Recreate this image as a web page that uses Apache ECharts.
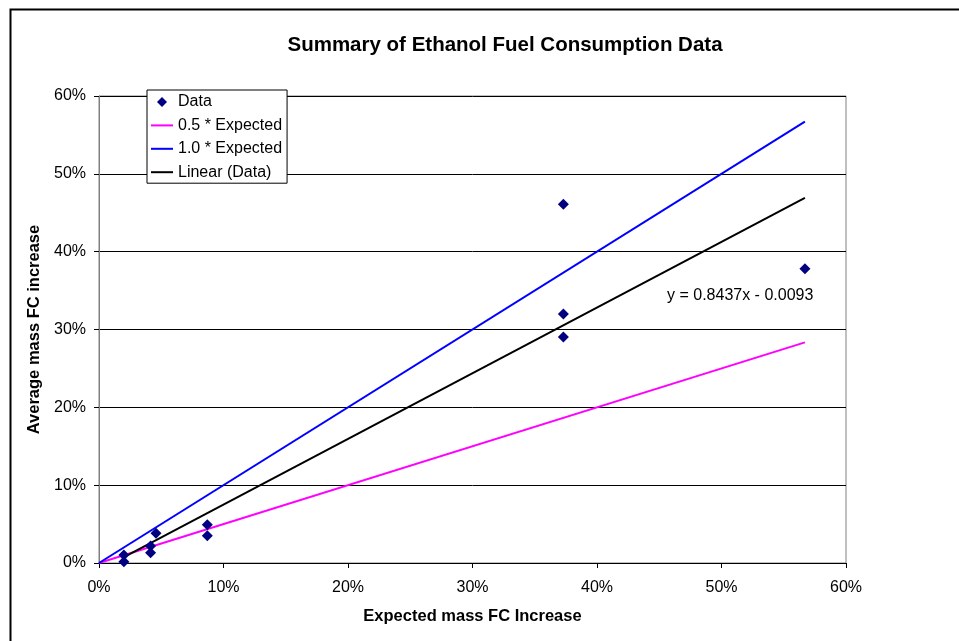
<!DOCTYPE html>
<html>
<head>
<meta charset="utf-8">
<script src="https://cdn.jsdelivr.net/npm/echarts@6/dist/echarts.min.js"></script>
<style>html,body{margin:0;padding:0;background:#fff}#c{width:959px;height:641px}</style>
</head>
<body>
<div id="c"></div>
<script>
// Data points (expected, observed), as fractions
const dataX = [0.020, 0.020, 0.0414, 0.0414, 0.0458, 0.087, 0.087, 0.373, 0.373, 0.373, 0.567];
const dataY = [0.0103, 0.0017, 0.022, 0.0133, 0.0382, 0.049, 0.035, 0.461, 0.320, 0.2905, 0.378];
// Reference lines: endpoints
const halfX = [0, 0.567];
const halfY = [0, 0.2835];
const fullX = [0, 0.567];
const fullY = [0, 0.567];
// Linear trendline endpoints (y = 0.8437x - 0.0093)
const trendX = [0.020, 0.567];
const trendY = [0.0076, 0.469];
const trendLabel = 'y = 0.8437x - 0.0093';
const axisTicks = [0, 0.1, 0.2, 0.3, 0.4, 0.5, 0.6];
const seriesNames = ['Data', '0.5 * Expected', '1.0 * Expected', 'Linear (Data)'];

const zip = (xs, ys) => xs.map((x, i) => [x, ys[i]]);
const pct = v => Math.round(v * 100) + '%';
const F = 'Liberation Sans, Arial, sans-serif';
const lineIcon = 'path://M0,0 M22,16 M0,7 L22,7 L22,9 L0,9 Z';
const diamondIcon = 'path://M0,0 M22,16 M11,3 L16,8 L11,13 L6,8 Z';

const chart = echarts.init(document.getElementById('c'), null, {renderer: 'canvas'});
chart.setOption({
  animation: false,
  backgroundColor: '#fff',
  textStyle: {fontFamily: F},
  title: {
    text: 'Summary of Ethanol Fuel Consumption Data',
    left: 500, top: 30, textAlign: 'center',
    textStyle: {fontFamily: F, fontSize: 20.5, fontWeight: 'bold', color: '#000'}
  },
  grid: {left: 99, right: 113, top: 96, bottom: 78, show: true, borderColor: '#808080', borderWidth: 1},
  xAxis: {
    type: 'value', min: axisTicks[0], max: axisTicks[axisTicks.length - 1], interval: 0.1,
    name: 'Expected mass FC Increase', nameLocation: 'middle', nameGap: 45,
    nameTextStyle: {fontFamily: F, fontSize: 16.5, fontWeight: 'bold', color: '#000'},
    axisLine: {lineStyle: {color: '#000', width: 1}},
    axisTick: {show: true, inside: false, length: 5, lineStyle: {color: '#000'}},
    axisLabel: {formatter: pct, fontFamily: F, fontSize: 16, color: '#000', margin: 17},
    splitLine: {show: false}
  },
  yAxis: {
    type: 'value', min: axisTicks[0], max: axisTicks[axisTicks.length - 1], interval: 0.1,
    name: 'Average mass FC increase', nameLocation: 'middle', nameGap: 52, nameRotate: 90,
    nameTextStyle: {fontFamily: F, fontSize: 16.5, fontWeight: 'bold', color: '#000'},
    axisLine: {show: true, lineStyle: {color: '#808080', width: 1}},
    axisTick: {show: true, inside: false, length: 5, lineStyle: {color: '#000'}},
    axisLabel: {formatter: pct, fontFamily: F, fontSize: 16, color: '#000', margin: 13},
    splitLine: {show: true, lineStyle: {color: '#000', width: 1}}
  },
  legend: {
    orient: 'vertical', left: 147, top: 90,
    backgroundColor: '#fff', borderColor: '#000', borderWidth: 1,
    padding: [4, 5, 3, 4], itemGap: 7.4, itemWidth: 22, itemHeight: 16,
    textStyle: {fontFamily: F, fontSize: 16, color: '#000'},
    data: [
      {name: seriesNames[0], icon: diamondIcon},
      {name: seriesNames[1], icon: lineIcon},
      {name: seriesNames[2], icon: lineIcon},
      {name: seriesNames[3], icon: lineIcon}
    ]
  },
  series: [
    {
      name: seriesNames[1], type: 'line', data: zip(halfX, halfY), symbol: 'none',
      lineStyle: {color: '#ff00ff', width: 2}, itemStyle: {color: '#ff00ff'}, z: 2
    },
    {
      name: seriesNames[2], type: 'line', data: zip(fullX, fullY), symbol: 'none',
      lineStyle: {color: '#0000ff', width: 2}, itemStyle: {color: '#0000ff'}, z: 2
    },
    {
      name: seriesNames[3], type: 'line', data: zip(trendX, trendY), symbol: 'none',
      lineStyle: {color: '#000', width: 2}, itemStyle: {color: '#000'}, z: 2
    },
    {
      name: seriesNames[0], type: 'scatter', data: zip(dataX, dataY),
      symbol: 'diamond', symbolSize: 11, itemStyle: {color: '#000080', opacity: 1}, z: 3
    }
  ],
  graphic: [
    {type: 'rect', left: 8, top: 7, shape: {width: 1000, height: 1000}, style: {fill: 'none', stroke: '#000', lineWidth: 2}, z: -1, silent: true},
    {type: 'text', left: 667, top: 288, style: {text: trendLabel, font: '16px ' + F, fill: '#000'}}
  ]
});
</script>
</body>
</html>
